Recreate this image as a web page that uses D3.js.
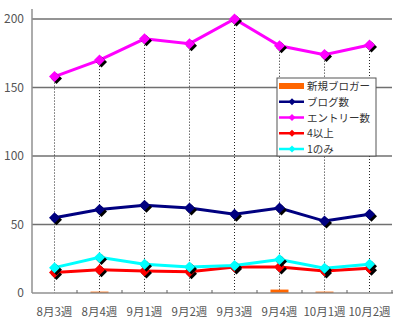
<!DOCTYPE html>
<html><head><meta charset="utf-8">
<script src="https://cdn.jsdelivr.net/npm/d3@7"></script>
<style>body{margin:0;background:#fff}svg{display:block}</style>
</head><body>
<svg id="c" width="400" height="322"></svg>
<script>
const categories = ["8月3週","8月4週","9月1週","9月2週","9月3週","9月4週","10月1週","10月2週"];
const newBloggers = [0, 1, 0, 0, 0, 2.5, 1, 0];
const blogCount = [55, 61, 64, 62, 57.5, 62, 52.5, 57.5];
const entryCount = [158, 170, 185.5, 182, 200, 180.5, 174, 181];
const fourPlus = [15, 17, 16, 15.5, 19, 19, 16, 18];
const onlyOne = [18.5, 26, 21, 19, 20, 24.5, 18, 21];
const yTicks = [0, 50, 100, 150, 200];
const seriesNames = ["新規ブロガー","ブログ数","エントリー数","4以上","1のみ"];

const lineSeries = [
  {name: seriesNames[1], values: blogCount, color: "#000080"},
  {name: seriesNames[2], values: entryCount, color: "#FF00FF"},
  {name: seriesNames[3], values: fourPlus, color: "#FF0000"},
  {name: seriesNames[4], values: onlyOne, color: "#00FFFF"}
];

const svg = d3.select("#c");
const font = "'Noto Sans CJK JP', 'DejaVu Sans', sans-serif";
const L = 32, R = 392, T = 9, B = 293;
const x = d3.scaleBand().domain(categories).range([L, R]);
const y = d3.scaleLinear().domain([0, 200]).range([B, 19]);

// gridlines
svg.append("g").selectAll("line").data(yTicks.filter(d => d > 0)).join("line")
  .attr("x1", L).attr("x2", R).attr("y1", d => y(d)).attr("y2", d => y(d))
  .attr("stroke", "#707070").attr("stroke-width", 1.3);

// y labels
svg.append("g").selectAll("text").data(yTicks).join("text")
  .attr("x", 24).attr("y", d => y(d) + 4).attr("text-anchor", "end")
  .attr("font-family", font).attr("font-size", 12).attr("fill", "#555")
  .text(d => d);

// drop lines
const maxVals = categories.map((c, i) => d3.max(lineSeries, s => s.values[i]));
svg.append("g").selectAll("line").data(categories).join("line")
  .attr("x1", d => x(d) + x.bandwidth()/2).attr("x2", d => x(d) + x.bandwidth()/2)
  .attr("y1", (d, i) => y(maxVals[i])).attr("y2", B)
  .attr("stroke", "#222").attr("stroke-width", 1).attr("stroke-dasharray", "1,2");

// bars
svg.append("g").selectAll("rect").data(categories).join("rect")
  .attr("x", d => x(d) + x.bandwidth()/2 - 9).attr("width", 18)
  .attr("y", (d, i) => y(newBloggers[i])).attr("height", (d, i) => B - y(newBloggers[i]))
  .attr("fill", "#FF6600");

// axes
svg.append("line").attr("x1", L).attr("x2", L).attr("y1", T).attr("y2", B)
  .attr("stroke", "#909090").attr("stroke-width", 1.5);
svg.append("line").attr("x1", L).attr("x2", R + 1).attr("y1", B).attr("y2", B)
  .attr("stroke", "#909090").attr("stroke-width", 1.5);
const bounds = categories.map(c => x(c) + x.bandwidth());
svg.append("g").selectAll("line").data(bounds).join("line")
  .attr("x1", d => d).attr("x2", d => d).attr("y1", B - 3).attr("y2", B)
  .attr("stroke", "#606060").attr("stroke-width", 1);

// x labels
svg.append("g").selectAll("text").data(categories).join("text")
  .attr("x", d => x(d) + x.bandwidth()/2).attr("y", 316).attr("text-anchor", "middle")
  .attr("font-family", font).attr("font-size", 11.5).attr("fill", "#555")
  .text(d => d);

// lines & markers
const diamond = (cx, cy, r) => `M${cx},${cy-r}L${cx+r},${cy}L${cx},${cy+r}L${cx-r},${cy}Z`;
const lineGen = d3.line().x((d, i) => x(categories[i]) + x.bandwidth()/2).y(d => y(d));
lineSeries.forEach(s => {
  const g = svg.append("g");
  g.append("path").attr("d", lineGen(s.values)).attr("fill", "none")
    .attr("stroke", s.color).attr("stroke-width", 3);
  g.selectAll("path.sh").data(s.values).join("path").attr("class", "sh")
    .attr("d", (d, i) => diamond(x(categories[i]) + x.bandwidth()/2 + 2, y(d) + 2, 5.5))
    .attr("fill", "#000");
  g.selectAll("path.mk").data(s.values).join("path").attr("class", "mk")
    .attr("d", (d, i) => diamond(x(categories[i]) + x.bandwidth()/2, y(d), 5.5))
    .attr("fill", s.color);
});

// legend
const lg = svg.append("g");
lg.append("rect").attr("x", 277).attr("y", 78).attr("width", 99).attr("height", 78)
  .attr("fill", "#fff").attr("stroke", "#555").attr("stroke-width", 1);
const ly = d3.scalePoint().domain(seriesNames).range([86, 149]);
lg.append("rect").attr("x", 279).attr("y", ly(seriesNames[0]) - 3).attr("width", 25).attr("height", 6)
  .attr("fill", "#FF6600");
lineSeries.forEach(s => {
  const yy = ly(s.name);
  lg.append("line").attr("x1", 279).attr("x2", 304).attr("y1", yy).attr("y2", yy)
    .attr("stroke", s.color).attr("stroke-width", 2.5);
  lg.append("path").attr("d", diamond(292, yy, 3.5)).attr("fill", s.color);
});
lg.selectAll("text").data(seriesNames).join("text")
  .attr("x", 307).attr("y", d => ly(d) + 4)
  .attr("font-family", font).attr("font-size", 10.5).attr("fill", "#333")
  .text(d => d);
</script>
</body></html>
